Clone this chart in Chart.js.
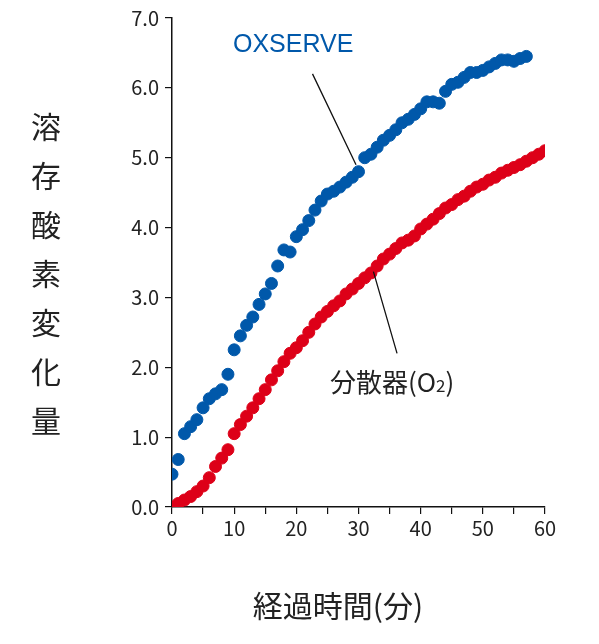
<!DOCTYPE html>
<html>
<head>
<meta charset="utf-8">
<script src="https://cdn.jsdelivr.net/npm/chart.js@4"></script>
<style>
  html, body { margin: 0; padding: 0; background: #fff; }
  #wrap { width: 599px; height: 644px; }
</style>
</head>
<body>
<div id="wrap"><canvas id="c" width="599" height="644"></canvas></div>
<script>
const oxMinutes = [0,1,2,3,4,5,6,7,8,9,10,11,12,13,14,15,16,17,18,19,20,21,22,23,24,25,26,27,28,29,30,31,32,33,34,35,36,37,38,39,40,41,42,43,44,45,46,47,48,49,50,51,52,53,54,55,56,57];
const oxValues = [0.47,0.68,1.05,1.15,1.25,1.42,1.55,1.62,1.68,1.9,2.25,2.45,2.6,2.72,2.9,3.05,3.2,3.45,3.68,3.65,3.87,3.97,4.1,4.25,4.38,4.48,4.52,4.58,4.65,4.72,4.8,5.0,5.05,5.15,5.25,5.32,5.4,5.5,5.55,5.62,5.7,5.8,5.8,5.78,5.95,6.05,6.08,6.15,6.22,6.22,6.25,6.3,6.35,6.4,6.4,6.38,6.42,6.45];
const diffMinutes = [0,1,2,3,4,5,6,7,8,9,10,11,12,13,14,15,16,17,18,19,20,21,22,23,24,25,26,27,28,29,30,31,32,33,34,35,36,37,38,39,40,41,42,43,44,45,46,47,48,49,50,51,52,53,54,55,56,57,58,59,60];
const diffValues = [0,0.05,0.1,0.15,0.22,0.3,0.42,0.58,0.7,0.82,1.05,1.18,1.3,1.42,1.55,1.68,1.82,1.95,2.08,2.2,2.28,2.38,2.5,2.62,2.72,2.8,2.88,2.95,3.05,3.12,3.2,3.28,3.35,3.45,3.55,3.62,3.7,3.78,3.82,3.88,3.98,4.05,4.12,4.2,4.28,4.33,4.4,4.45,4.52,4.58,4.62,4.68,4.72,4.78,4.82,4.86,4.9,4.95,5.0,5.05,5.1];
const yTitle = ['溶', '存', '酸', '素', '変', '化', '量'];
const xTitle = '経過時間(分)';

const FONT = '"Noto Sans CJK JP", "Liberation Sans", sans-serif';

const labelsPlugin = {
  id: 'labels',
  afterDraw(chart) {
    const { ctx, scales: { x, y } } = chart;
    ctx.save();
    // leader lines
    ctx.strokeStyle = '#111';
    ctx.lineWidth = 1.3;
    ctx.beginPath();
    ctx.moveTo(x.getPixelForValue(22.6), y.getPixelForValue(6.2));
    ctx.lineTo(x.getPixelForValue(29.6), y.getPixelForValue(4.9));
    ctx.moveTo(x.getPixelForValue(32.4), y.getPixelForValue(3.37));
    ctx.lineTo(x.getPixelForValue(36.2), y.getPixelForValue(2.2));
    ctx.stroke();
    // series labels
    ctx.font = '25px "Liberation Sans", sans-serif';
    ctx.fillStyle = '#0058aa';
    ctx.textAlign = 'left';
    ctx.textBaseline = 'middle';
    ctx.fillText('OXSERVE', 233, 45);
    ctx.fillStyle = '#222';
    ctx.font = '26px ' + FONT;
    ctx.fillText('分散器(O', 330, 382);
    let w = ctx.measureText('分散器(O').width;
    ctx.font = '17px ' + FONT;
    ctx.fillText('2', 330 + w, 386);
    let w2 = ctx.measureText('2').width;
    ctx.font = '26px ' + FONT;
    ctx.fillText(')', 330 + w + w2, 382);
    // axis titles
    ctx.fillStyle = '#222';
    ctx.font = '30px ' + FONT;
    ctx.textAlign = 'center';
    yTitle.forEach((ch, i) => ctx.fillText(ch, 46, 127 + i * 49));
    ctx.fillText(xTitle, 338, 606);
    ctx.restore();
  }
};

new Chart(document.getElementById('c'), {
  type: 'scatter',
  data: {
    datasets: [
      { label: 'OXSERVE', data: oxMinutes.map((m, i) => ({ x: m, y: oxValues[i] })),
        backgroundColor: '#0058aa', borderColor: '#0058aa', pointRadius: 6, pointHoverRadius: 6 },
      { label: '分散器(O2)', data: diffMinutes.map((m, i) => ({ x: m, y: diffValues[i] })),
        backgroundColor: '#dd0018', borderColor: '#dd0018', pointRadius: 6, pointHoverRadius: 6 }
    ]
  },
  options: {
    responsive: false,
    animation: false,
    layout: { padding: { top: 17, right: 54, left: 0, bottom: 0 } },
    plugins: { legend: { display: false }, tooltip: { enabled: false } },
    scales: {
      x: {
        min: 0, max: 60,
        afterFit(s) { s.height = 137; },
        border: { color: '#111', width: 1.5 },
        grid: { drawOnChartArea: false, tickLength: 7, color: '#111', lineWidth: 1.2 },
        ticks: { stepSize: 5, color: '#222', font: { size: 20, family: FONT }, maxRotation: 0, autoSkip: false,
          padding: 2, callback: v => (v % 10 === 0 ? v : '') }
      },
      y: {
        min: 0, max: 7,
        afterFit(s) { s.width = 172; },
        border: { color: '#111', width: 1.5 },
        grid: { drawOnChartArea: false, tickLength: 7, color: '#111', lineWidth: 1.2 },
        ticks: { stepSize: 1, color: '#222', font: { size: 20, family: FONT }, padding: 6,
          callback: v => v.toFixed(1) }
      }
    }
  },
  plugins: [labelsPlugin]
});
</script>
</body>
</html>
